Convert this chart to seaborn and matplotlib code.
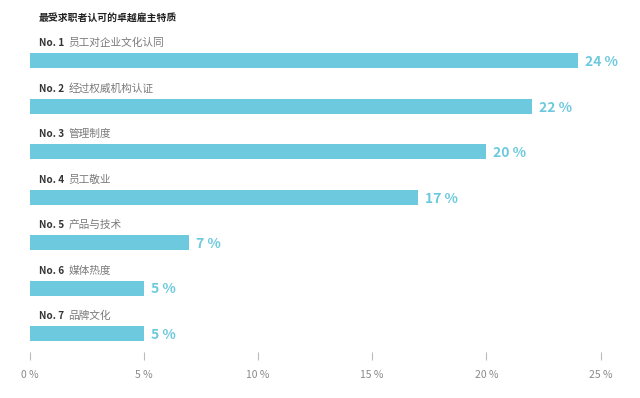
import matplotlib
matplotlib.use("Agg")
import matplotlib.pyplot as plt
import seaborn as sns
import pandas as pd

title = "最受求职者认可的卓越雇主特质"
ranks = ["No. 1", "No. 2", "No. 3", "No. 4", "No. 5", "No. 6", "No. 7"]
categories = ["员工对企业文化认同", "经过权威机构认证", "管理制度", "员工敬业", "产品与技术", "媒体热度", "品牌文化"]
values = [24, 22, 20, 17, 7, 5, 5]
xticks = [0, 5, 10, 15, 20, 25]
xtick_labels = ["0 %", "5 %", "10 %", "15 %", "20 %", "25 %"]

sns.set_theme(style="white")
plt.rcParams['font.family'] = ['Noto Sans CJK SC', 'DejaVu Sans']

BAR = "#6DC9DD"
df = pd.DataFrame({"cat": categories, "val": values})

fig = plt.figure(figsize=(6.4, 3.98), dpi=100)
ax = fig.add_axes([29.5 / 640, 0.105, 571 / 640, 0.8564])

sns.barplot(data=df, x="val", y="cat", orient="h", color=BAR, width=0.33,
            saturation=1, ax=ax, edgecolor="none")

ax.set_xlim(0, 25)
ax.set_ylim(6.5, -1.0)
ax.set_yticks([])
ax.set_xlabel("")
ax.set_ylabel("")
for s in ax.spines.values():
    s.set_visible(False)

ax.set_xticks(xticks)
ax.set_xticklabels(xtick_labels, fontsize=7.5, color="#8a8a8a")
ax.tick_params(axis="x", bottom=True, direction="inout", length=6, width=0.8,
               color="#bbbbbb", pad=7)

for i, (r, c, v) in enumerate(zip(ranks, categories, values)):
    ax.annotate(r, xy=(0, i - 0.385), xytext=(6.8, 0), textcoords="offset points",
                ha="left", va="center", fontsize=7.2, fontweight="bold", color="#333333")
    ax.annotate(c, xy=(0, i - 0.385), xytext=(27.9, 0), textcoords="offset points",
                ha="left", va="center", fontsize=7.7, color="#7a7a7a")
    ax.annotate(f"{v} %", xy=(v, i), xytext=(5, -1), textcoords="offset points",
                ha="left", va="center", fontsize=10, fontweight="bold", color=BAR)

fig.text(39 / 640, 1 - 17.3 / 398, title, ha="left", va="center",
         fontsize=7.1, fontweight="bold", color="#222222")

fig.savefig("out.png", dpi=100, facecolor="white")
